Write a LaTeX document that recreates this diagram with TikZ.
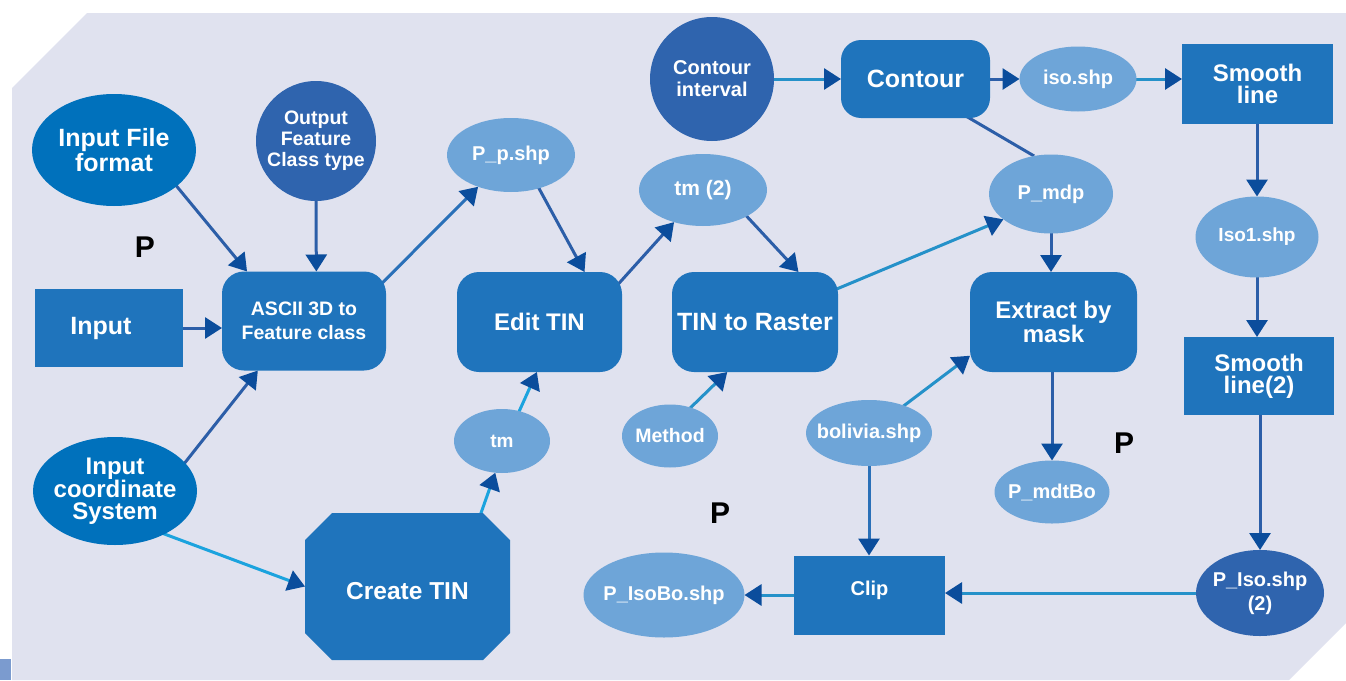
\documentclass[tikz,border=0pt]{standalone}
\usepackage{fontspec}
\setmainfont{Liberation Sans}
\usetikzlibrary{shapes.geometric, arrows.meta, calc}

\definecolor{paper}{HTML}{E0E2EF}
\definecolor{tabblue}{HTML}{7B9BCF}
\definecolor{boxblue}{HTML}{1F74BC}
\definecolor{deepblue}{HTML}{0071BC}
\definecolor{indigo}{HTML}{2F64AE}
\definecolor{lightblue}{HTML}{6EA5D8}
\definecolor{tipblue}{HTML}{0B4D9C}
\definecolor{darkline}{HTML}{2C5EA8}
\definecolor{midline}{HTML}{2A70B8}
\definecolor{cyanline}{HTML}{1BA3DE}
\definecolor{tealline}{HTML}{2591C9}

\newcommand\fsz[2]{\fontsize{#1}{#2}\selectfont}

\pgfdeclarelayer{paperlayer}
\pgfdeclarelayer{edges}
\pgfsetlayers{paperlayer,edges,main}

\tikzset{
  base/.style={inner sep=-40pt, outer sep=0pt, text=white, align=center},
  rbox/.style={base, rectangle, rounded corners=22pt, fill=boxblue},
  sbox/.style={base, rectangle, fill=boxblue},
  octbox/.style={base, rectangle, path picture={
      \fill[boxblue]
        ($(path picture bounding box.north west)+(27,0)$) --
        ($(path picture bounding box.north east)+(-27,0)$) --
        ($(path picture bounding box.north east)+(0,27)$) --
        ($(path picture bounding box.south east)+(0,-27)$) --
        ($(path picture bounding box.south east)+(-27,0)$) --
        ($(path picture bounding box.south west)+(27,0)$) --
        ($(path picture bounding box.south west)+(0,-27)$) --
        ($(path picture bounding box.north west)+(0,27)$) -- cycle;}},
  dell/.style={base, ellipse, fill=deepblue},
  lell/.style={base, ellipse, fill=lightblue},
  iell/.style={base, ellipse, fill=indigo},
  icirc/.style={base, circle, fill=indigo},
  pmark/.style={inner sep=0pt, text=black, font=\bfseries\fsz{30}{30}},
  conn/.style={line width=3pt, shorten <=-6pt},
  arr/.style={conn, -{Triangle[length=17pt,width=21pt,color=tipblue]}},
}

\begin{document}
\begin{tikzpicture}[x=1pt,y=-1pt]
\useasboundingbox (0,0) rectangle (1346,680);

\begin{pgfonlayer}{paperlayer}
  \fill[white] (0,0) rectangle (1346,680);
  \fill[paper] (12,88) -- (87,13) -- (1346,13) -- (1346,623) -- (1289,680) -- (12,680) -- cycle;
  \fill[tabblue] (0,659) rectangle (11,680);
\end{pgfonlayer}

% ---- left group: import of the point file
\node[dell, minimum width=164pt, minimum height=112pt, font=\bfseries\fsz{25}{23}] (iff) at (114,150) {Input File\\format};
\node[icirc, minimum size=120pt, font=\bfseries\fsz{19.5}{21}] (ofc) at (316,141) {Output\\Feature\\Class type};
\node[sbox, minimum width=148pt, minimum height=78pt, font=\bfseries\fsz{25}{25}] (inp) at (109,328) {\hspace*{-16pt}Input};
\node[rbox, minimum width=164pt, minimum height=99pt, font=\bfseries\fsz{19.5}{24}] (ascii) at (304,321) {ASCII 3D to\\Feature class};
\node[dell, minimum width=164pt, minimum height=108pt, font=\bfseries\fsz{24}{22}] (ics) at (115,491) {Input\\coordinate\\System};
\node[octbox, minimum width=205pt, minimum height=147pt, font=\bfseries\fsz{24.5}{25}] (ctin) at (407.5,586.5) {\raisebox{-13pt}[0pt][0pt]{Create TIN}};
\node[pmark] (p1) at (145,247) {P};

% ---- TIN editing and rasterising
\node[lell, minimum width=128pt, minimum height=74pt, font=\bfseries\fsz{20}{20}] (pp) at (511,155) {P\_p.shp};
\node[rbox, minimum width=165pt, minimum height=100pt, font=\bfseries\fsz{24}{24}] (edit) at (539.5,322) {Edit TIN};
\node[lell, minimum width=96pt, minimum height=64pt, font=\bfseries\fsz{19}{19}] (tm) at (502,441) {tm};
\node[lell, minimum width=128pt, minimum height=72pt, font=\bfseries\fsz{21}{21}] (tm2) at (703,190) {tm (2)};
\node[rbox, minimum width=166pt, minimum height=100pt, font=\bfseries\fsz{25}{25}] (t2r) at (755,322) {TIN to Raster};
\node[lell, minimum width=96pt, minimum height=63pt, font=\bfseries\fsz{19.5}{19.5}] (method) at (670,436) {Method};

% ---- contours and masking
\node[icirc, minimum size=124pt, font=\bfseries\fsz{20}{22}] (ci) at (712,79) {Contour\\interval};
\node[rbox, rounded corners=20pt, minimum width=149pt, minimum height=78pt, font=\bfseries\fsz{25}{25}] (contour) at (915.5,79) {Contour};
\node[lell, minimum width=117pt, minimum height=65pt, font=\bfseries\fsz{20}{20}] (iso) at (1078,79) {iso.shp};
\node[sbox, minimum width=151pt, minimum height=80pt, font=\bfseries\fsz{24}{22}] (sl) at (1257.5,84) {Smooth\\line};
\node[lell, minimum width=124pt, minimum height=79pt, font=\bfseries\fsz{20}{20}] (pmdp) at (1051,194) {P\_mdp};
\node[rbox, minimum width=167pt, minimum height=100pt, font=\bfseries\fsz{24}{22}] (extract) at (1053.5,322) {Extract by\\mask};
\node[lell, minimum width=126pt, minimum height=66pt, font=\bfseries\fsz{20}{20}] (bolivia) at (869,433) {bolivia.shp};
\node[lell, minimum width=115pt, minimum height=63pt, font=\bfseries\fsz{20}{20}] (pmdtbo) at (1052,492) {P\_mdtBo};
\node[pmark] (p2) at (1124,443) {P};
\node[lell, minimum width=123pt, minimum height=81pt, font=\bfseries\fsz{19}{19}] (iso1) at (1257,237) {Iso1.shp};
\node[sbox, minimum width=150pt, minimum height=78pt, font=\bfseries\fsz{24}{22}] (sl2) at (1259,376) {Smooth\\line(2)};
\node[iell, minimum width=128pt, minimum height=86pt, font=\bfseries\fsz{20}{24}] (piso) at (1260,593) {P\_Iso.shp\\(2)};
\node[sbox, minimum width=151pt, minimum height=79pt, font=\bfseries\fsz{20}{20}] (clip) at (869.5,595) {\raisebox{0pt}[0pt][0pt]{Clip}};
\node[lell, minimum width=161pt, minimum height=85pt, font=\bfseries\fsz{20}{20}] (pisobo) at (664,595) {P\_IsoBo.shp};
\node[pmark] (p3) at (720,513) {P};

% ---- connectors, drawn beneath the boxes
\begin{pgfonlayer}{edges}
  \draw[arr, darkline] (iff.-30) -- (ascii.139);
  \draw[arr, darkline] (ofc.south) -- (ascii.76);
  \draw[arr, darkline] (inp.east) -- (inp.east -| ascii.west);
  \draw[arr, darkline] (ics.22) -- (ascii.227);
  \draw[arr, cyanline] (ics.-41) -- (ctin.180);
  \draw[arr, midline] (ascii.27) -- (pp.224);
  \draw[arr, darkline] (pp.-50) -- (edit.48);
  \draw[arr, cyanline] (ctin.45) -- (tm.258);
  \draw[arr, cyanline] (tm.60) -- (edit.267);
  \draw[arr, darkline] (edit.27) -- (tm2.228);
  \draw[arr, darkline] (tm2.-31) -- (t2r.49);
  \draw[arr, tealline] (method.54) -- (t2r.241);
  \draw[arr, tealline] (t2r.22) -- (pmdp.208);
  \draw[conn, darkline] (contour.-36) -- (pmdp.114);
  \draw[arr, tealline] (ci.east) -- (contour.west);
  \draw[arr, darkline] (contour.east) -- (iso.west);
  \draw[arr, tealline] (iso.east) -- (iso.east -| sl.west);
  \draw[arr, darkline] (iso1.north |- sl.south) -- (iso1.north);
  \draw[arr, darkline] (iso1.south) -- (iso1.south |- sl2.north);
  \draw[arr, darkline] (piso.north |- sl2.south) -- (piso.north);
  \draw[arr, tealline] (piso.west) -- (piso.west -| clip.east);
  \draw[arr, tealline] (clip.west) -- (pisobo.east);
  \draw[arr, midline] (bolivia.south) -- (bolivia.south |- clip.north);
  \draw[arr, tealline] (bolivia.38) -- (extract.202);
  \draw[arr, darkline] (pmdp.south) -- (pmdp.south |- extract.north);
  \draw[arr, darkline] (pmdtbo.north |- extract.south) -- (pmdtbo.north);
\end{pgfonlayer}
\end{tikzpicture}
\end{document}
